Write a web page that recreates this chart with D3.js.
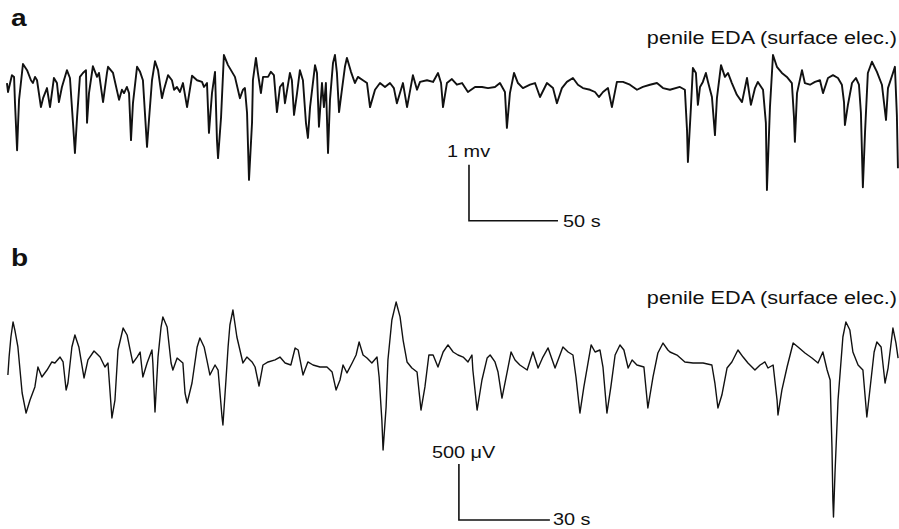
<!DOCTYPE html>
<html>
<head>
<meta charset="utf-8">
<script src="https://cdn.jsdelivr.net/npm/d3@7/dist/d3.min.js"></script>
<style>
  body { margin: 0; background: #fff; }
</style>
</head>
<body>
<div class="container"></div>
<script>
// trace a: penile EDA, time in s, amplitude in mV
var topTime = [3.9,4.5,6.7,7.9,8.4,9.6,10.1,10.7,12.9,15.2,17.4,18.5,19.7,20.8,23.0,24.2,26.4,28.1,30.3,32.0,
  33.1,34.8,37.6,39.3,41.0,42.1,43.3,44.9,46.6,48.3,48.9,50.0,52.2,54.5,55.6,57.9,60.1,60.7,63.5,66.9,
  68.5,69.7,71.3,72.5,73.6,74.7,77.0,78.7,80.3,82.6,83.7,85.4,87.1,88.8,91.0,92.1,94.4,96.6,97.8,99.4,
  101.1,102.8,105.1,107.9,110.7,113.5,114.6,116.3,117.4,119.1,120.8,121.9,122.5,124.2,125.8,128.1,132.0,134.8,136.5,137.6,
  138.8,139.9,141.6,142.1,143.8,144.9,146.6,147.8,150.6,152.2,153.9,155.6,157.3,159.0,160.1,162.9,164.0,165.2,166.9,168.5,
  170.2,171.9,173.0,174.2,177.0,178.1,179.2,180.9,182.0,183.1,184.3,185.4,187.1,188.2,189.3,190.5,192.1,193.8,194.9,197.2,
  199.4,201.1,203.9,206.2,207.9,210.7,213.5,216.3,219.1,221.3,223.0,226.4,228.7,232.0,234.3,236.0,239.9,243.3,246.1,247.8,
  248.9,251.1,253.9,256.7,259.6,262.9,266.9,270.8,274.2,278.1,280.9,283.7,284.8,286.5,288.8,291.0,293.8,297.8,300.6,303.4,
  307.3,310.7,312.9,315.7,318.5,321.9,324.7,327.5,331.5,334.3,336.5,338.8,341.6,343.8,346.6,350.0,353.9,357.9,361.2,365.2,
  369.1,372.5,376.4,382.0,384.8,386.0,386.5,388.2,389.3,391.0,392.1,393.3,394.9,396.6,397.8,400.0,401.7,402.8,405.1,407.3,
  409.0,411.2,414.0,416.9,419.7,421.9,424.2,425.8,428.7,430.3,430.9,432.6,434.3,436.5,439.3,442.1,444.9,446.1,446.6,447.8,
  450.6,452.2,455.1,457.9,460.7,462.4,465.2,468.0,470.8,473.0,474.2,474.7,476.4,478.7,480.9,482.6,483.7,484.8,486.0,487.6,
  489.9,492.7,495.5,497.8,498.9,501.7,502.8,503.9,504.5];
var topMv = [1.91,1.75,2.05,2.02,1.57,0.71,1.13,1.61,2.25,2.14,1.96,1.91,2.02,1.96,1.48,1.64,1.82,1.48,2.00,1.91,
  1.57,1.84,2.14,2.00,1.20,0.66,1.30,2.02,2.09,2.14,1.20,1.73,2.21,2.02,2.09,1.57,2.09,2.20,2.09,1.61,
  1.79,1.73,1.84,1.73,0.89,1.55,2.20,2.11,1.96,0.77,1.25,1.96,2.30,2.14,1.64,1.79,2.05,1.96,1.79,1.84,
  1.75,1.91,1.48,2.04,1.96,1.93,1.84,1.91,1.02,1.73,2.11,0.89,0.57,1.30,2.41,2.23,2.02,1.64,1.79,1.82,
  1.38,0.18,1.20,1.96,2.36,2.09,1.73,2.02,2.02,2.11,2.05,1.39,1.84,1.91,1.55,2.09,1.96,1.34,1.73,2.14,
  1.96,1.20,0.93,1.48,2.23,2.09,1.13,1.91,1.48,1.91,0.66,1.61,2.27,2.41,2.09,1.39,1.79,2.20,2.36,2.11,
  1.91,2.02,1.96,1.91,1.48,1.79,1.91,1.84,1.91,1.82,1.55,1.91,1.48,2.05,1.79,1.93,1.96,1.93,2.09,1.91,
  1.48,1.91,1.98,1.88,1.91,1.75,1.84,1.84,1.82,1.84,1.91,1.75,1.11,1.73,2.09,1.91,1.82,1.88,1.91,1.66,
  1.91,1.82,1.55,1.82,1.93,2.00,1.88,1.82,1.79,1.75,1.66,1.75,1.82,1.48,1.93,1.93,1.88,1.79,1.84,1.88,
  1.91,1.82,1.79,1.84,1.79,1.07,0.50,1.48,2.18,2.09,1.52,1.84,1.93,2.09,1.93,1.66,0.98,1.64,2.23,2.02,
  2.09,1.91,1.70,1.57,2.00,1.52,1.82,1.93,1.79,1.20,0.00,1.48,2.41,2.20,2.09,2.02,1.91,1.30,0.86,1.73,
  2.14,1.91,1.88,1.93,1.96,1.73,2.00,2.05,2.00,1.88,1.57,1.16,1.52,1.91,2.00,1.88,1.38,0.05,1.02,2.09,
  2.29,2.11,1.88,1.25,1.82,2.09,2.20,1.34,0.39];

// trace b: penile EDA, time in s, amplitude in microvolts
var botTime = [2.6,3.0,3.6,4.3,4.9,5.9,7.3,8.6,9.9,11.5,12.5,13.8,15.5,17.1,18.1,19.8,20.8,21.8,22.4,23.7,
  24.7,26.0,27.7,29.0,31.0,33.0,34.6,35.6,36.9,37.9,38.9,40.6,41.9,42.9,43.8,45.2,46.2,47.1,48.5,50.1,
  50.4,51.1,52.1,53.1,53.7,55.1,56.4,57.0,58.4,60.3,61.0,61.7,63.3,65.0,65.9,67.3,68.2,69.2,70.9,71.9,
  73.2,73.5,74.5,75.2,75.8,76.8,78.1,79.1,80.1,81.4,83.1,84.1,85.4,86.7,88.4,90.7,92.3,94.0,95.9,97.3,
  98.3,99.9,101.5,103.2,105.5,107.8,109.5,110.8,112.1,113.1,114.4,116.1,117.4,118.4,119.7,121.0,122.6,124.3,125.0,125.9,
  126.3,127.3,127.9,129.2,130.6,131.9,132.9,134.2,135.8,137.5,138.8,140.1,141.4,142.8,144.4,146.1,147.7,149.4,151.0,152.7,
  154.3,155.6,155.9,157.3,158.9,160.6,161.6,163.2,164.2,165.5,167.2,168.5,169.8,171.4,173.8,175.7,177.4,179.0,180.7,183.0,
  185.6,187.3,188.9,189.9,191.2,192.5,194.9,196.2,197.8,198.8,200.1,201.4,202.8,204.4,205.7,207.1,208.4,210.0,212.3,213.6,
  215.3,216.9,218.6,220.2,220.9,223.2,225.8,228.5,231.8,234.7,235.7,236.7,238.0,239.7,241.3,243.3,245.0,246.6,248.9,250.6,
  252.2,253.2,254.9,256.2,256.5,257.8,259.5,261.5,263.1,265.4,267.7,269.7,271.3,272.7,273.7,274.3,274.6,274.8,275.3,276.3,
  277.9,278.9,280.2,281.2,282.9,284.5,285.8,286.8,288.2,289.1,290.5,291.8,292.8,294.4,295.4,296.1];
var botUv = [1295,1455,1634,1768,1696,1545,1134,955,1071,1188,1366,1277,1339,1411,1402,1455,1411,1161,1223,1545,
  1652,1545,1268,1429,1509,1455,1366,1402,911,1071,1518,1714,1652,1518,1402,1455,1500,1277,1402,1518,
  1402,964,1455,1723,1813,1723,1402,1339,1446,1402,1134,1045,1223,1545,1625,1545,1429,1295,1384,1339,
  920,848,1250,1545,1741,1875,1634,1518,1402,1455,1411,1366,1196,1384,1411,1429,1455,1402,1384,1536,
  1518,1295,1411,1384,1366,1366,1321,1161,1250,1384,1313,1402,1473,1589,1473,1446,1402,1455,1277,893,
  625,1009,1429,1786,1946,1813,1607,1411,1357,1321,982,1188,1473,1473,1366,1500,1563,1500,1473,1455,
  1411,1473,1339,982,1250,1446,1473,1411,1321,1089,1321,1500,1429,1384,1339,1500,1357,1455,1536,1357,
  1545,1500,1473,1277,955,1188,1563,1500,1518,1366,955,1188,1473,1563,1518,1357,1429,1384,1366,1000,
  1277,1491,1580,1518,1500,1473,1411,1402,1402,1384,1223,1000,1116,1357,1411,1518,1455,1402,1339,1384,
  1411,1357,1384,1071,938,1161,1366,1580,1545,1491,1446,1402,1500,1339,1250,652,179,27,420,1071,
  1634,1768,1696,1500,1384,1339,920,1161,1500,1589,1545,1223,1357,1714,1580,1446];

// calibration bars: [time, amplitude] of the corner, and bar sizes
var topBar = { t: 263.5, v: -0.55, dt: 50, dv: 1, vLabel: "1 mv", tLabel: "50 s" };
var botBar = { t: 151.3, v: 0, dt: 30, dv: 500, vLabel: "500 \u03bcV", tLabel: "30 s" };
var panelLetters = ["a", "b"];
var traceTitle = "penile EDA (surface elec.)";

const width = 899, height = 529;
const font = "'Liberation Sans', Arial, Helvetica, sans-serif";

const svg = d3.select(".container").append("svg")
  .attr("width", width)
  .attr("height", height)
  .style("display", "block");

const xTop = d3.scaleLinear().domain([0, 505.1]).range([0, 899]);
const yTop = d3.scaleLinear().domain([0, 1]).range([190, 134]);
const xBot = d3.scaleLinear().domain([0, 296.4]).range([0, 899]);
const yBot = d3.scaleLinear().domain([0, 500]).range([520, 464]);

function drawTrace(times, vals, x, y, sw) {
  svg.append("path")
    .datum(d3.range(times.length))
    .attr("fill", "none")
    .attr("stroke", "#111")
    .attr("stroke-width", sw)
    .attr("stroke-linejoin", "round")
    .attr("d", d3.line().x(i => x(times[i])).y(i => y(vals[i])));
}

drawTrace(topTime, topMv, xTop, yTop, 1.9);
drawTrace(botTime, botUv, xBot, yBot, 1.4);

function stretchedText(txt, px, py, size, anchor, weight) {
  svg.append("text")
    .attr("transform", `translate(${px},${py}) scale(1.17,1)`)
    .attr("font-family", font)
    .attr("font-size", size)
    .attr("font-weight", weight || "normal")
    .attr("text-anchor", anchor)
    .attr("fill", "#111")
    .text(txt);
}

function drawBar(b, x, y) {
  const x0 = x(b.t), y0 = y(b.v);
  const x1 = x(b.t + b.dt), y1 = y(b.v + b.dv);
  svg.append("path")
    .attr("fill", "none")
    .attr("stroke", "#111")
    .attr("stroke-width", 1.6)
    .attr("d", `M${x0},${y1} V${y0} H${x1}`);
  return { x0, y0, x1, y1 };
}

const bt = drawBar(topBar, xTop, yTop);
stretchedText(topBar.vLabel, bt.x0 - 22, bt.y1 - 8, 17, "start");
stretchedText(topBar.tLabel, bt.x1 + 5, bt.y0 + 6, 17, "start");

const bb = drawBar(botBar, xBot, yBot);
stretchedText(botBar.vLabel, bb.x0 - 27, bb.y1 - 6, 17, "start");
stretchedText(botBar.tLabel, bb.x1 + 3, bb.y0 + 5, 17, "start");

stretchedText(traceTitle, 897, 44, 18.5, "end");
stretchedText(traceTitle, 897, 304, 18.5, "end");

stretchedText(panelLetters[0], 11, 26, 24, "start", "bold");
stretchedText(panelLetters[1], 11, 266, 24, "start", "bold");
</script>
</body>
</html>
